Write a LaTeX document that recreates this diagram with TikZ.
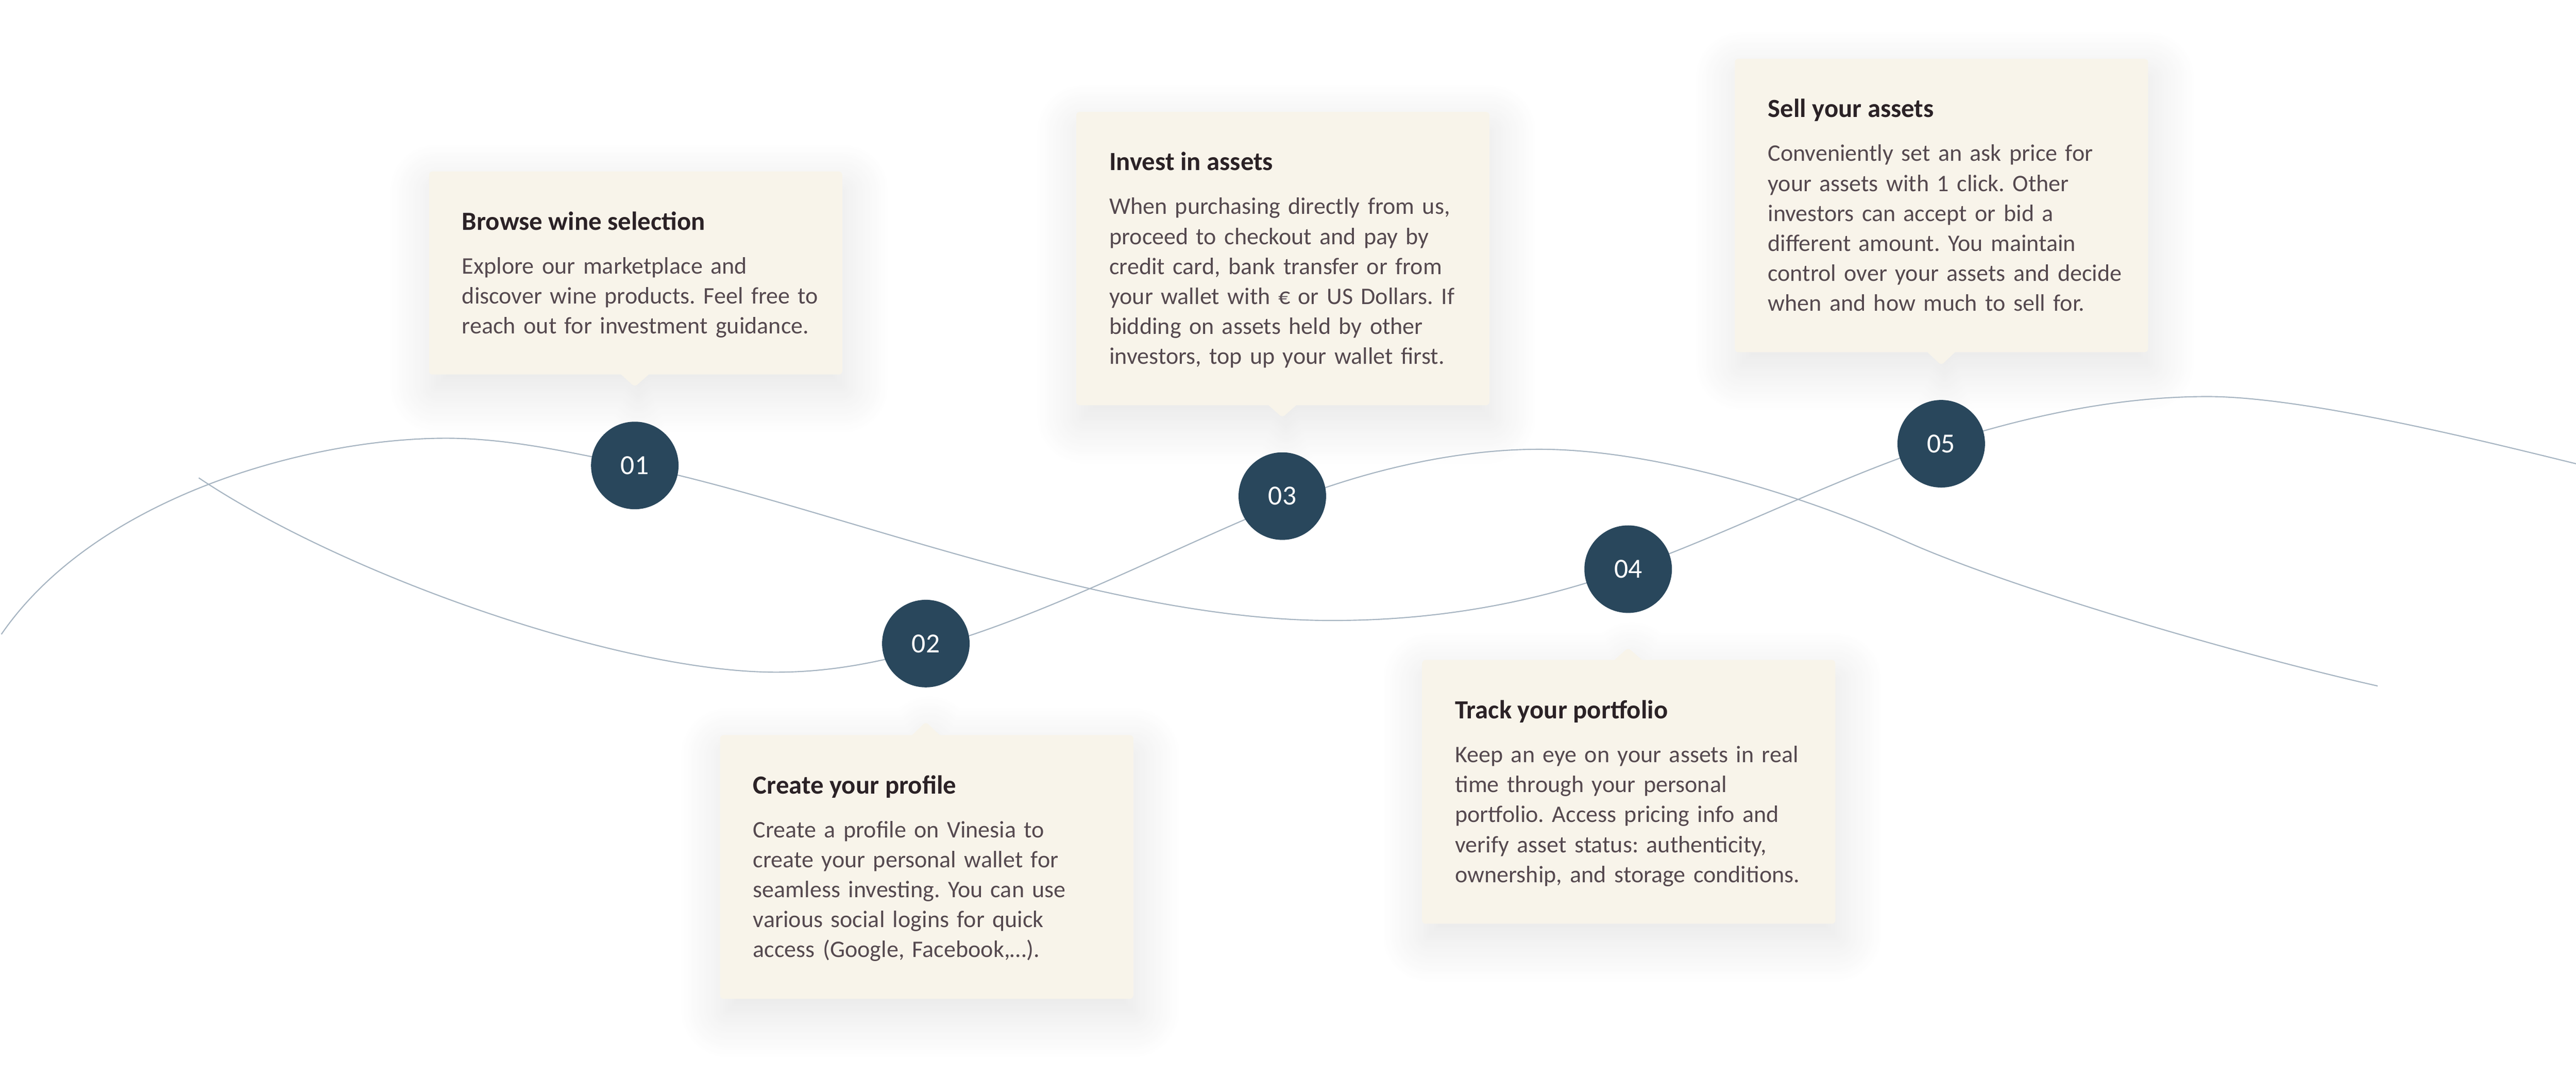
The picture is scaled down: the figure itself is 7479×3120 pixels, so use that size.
\documentclass[tikz,border=0pt]{standalone}
\usepackage{fontspec}
\setmainfont{Carlito}
\frenchspacing
\usetikzlibrary{calc}
\usetikzlibrary{shapes.callouts}
\usetikzlibrary{shadows.blur}

\definecolor{cardFill}{HTML}{F8F4EA}
\definecolor{stepFill}{HTML}{29475C}
\definecolor{waveLine}{HTML}{A6B4C1}
\definecolor{titleInk}{HTML}{2B2226}
\definecolor{bodyInk}{HTML}{55494F}

\begin{document}
\begin{tikzpicture}[x = 0.01cm, y = -0.01cm]
\tikzstyle{cardStyle} = [rectangle callout, fill = cardFill, rounded corners = 0.1cm, minimum width = 11.99cm, inner sep = 0pt, anchor = north west, callout pointer width = 0.8cm, blur shadow = {shadow xshift = 0.1cm, shadow yshift = -0.45cm, shadow blur radius = 1.3cm, shadow blur steps = 20, shadow opacity = 11}]
\tikzstyle{titleStyle} = [anchor = base west, inner sep = 0pt, text = titleInk, font = \fontsize{21.6}{26}\selectfont\bfseries]
\tikzstyle{bodyStyle} = [anchor = base west, inner sep = 0pt, text = bodyInk, align = left, text width = 11cm, font = \fontsize{19.6}{24.75}\selectfont]
\tikzstyle{stepStyle} = [circle, fill = stepFill, minimum size = 2.54cm, inner sep = 0pt, text = white, font = \fontsize{22.8}{26}\selectfont]
\tikzstyle{waveStyle} = [draw = waveLine, line width = 0.032cm]
\useasboundingbox (0,0) rectangle (7479,3120);
% cards
\node[cardStyle, minimum height = 5.89cm, callout absolute pointer = {(1843,1123)}] (b1) at (1245,497) {};
\node[cardStyle, minimum height = 7.65cm, callout absolute pointer = {(2688,2095)}] (b2) at (2090,2133) {};
\node[cardStyle, minimum height = 8.51cm, callout absolute pointer = {(3723,1212)}] (b3) at (3124,324) {};
\node[cardStyle, minimum height = 7.65cm, callout absolute pointer = {(4727,1880)}] (b4) at (4128,1915) {};
\node[cardStyle, minimum height = 8.51cm, callout absolute pointer = {(5636,1060)}] (b5) at (5036,170) {};
\node[titleStyle] (t1) at ($(b1.north west) + (96,171)$) {Browse wine selection};
\node[bodyStyle] (d1) at ($(b1.north west) + (96,298)$) {Explore our marketplace and\\ discover wine products. Feel free to\\ reach out for investment guidance.};
\node[titleStyle] (t2) at ($(b2.north west) + (96,171)$) {Create your profile};
\node[bodyStyle] (d2) at ($(b2.north west) + (96,298)$) {Create a profile on Vinesia to\\ create your personal wallet for\\ seamless investing. You can use\\ various social logins for quick\\ access (Google, Facebook,…).};
\node[titleStyle] (t3) at ($(b3.north west) + (96,171)$) {Invest in assets};
\node[bodyStyle] (d3) at ($(b3.north west) + (96,298)$) {When purchasing directly from us,\\ proceed to checkout and pay by\\ credit card, bank transfer or from\\ your wallet with € or US Dollars. If\\ bidding on assets held by other\\ investors, top up your wallet first.};
\node[titleStyle] (t4) at ($(b4.north west) + (96,171)$) {Track your portfolio};
\node[bodyStyle] (d4) at ($(b4.north west) + (96,298)$) {Keep an eye on your assets in real\\ time through your personal\\ portfolio. Access pricing info and\\ verify asset status: authenticity,\\ ownership, and storage conditions.};
\node[titleStyle] (t5) at ($(b5.north west) + (96,171)$) {Sell your assets};
\node[bodyStyle] (d5) at ($(b5.north west) + (96,298)$) {Conveniently set an ask price for\\ your assets with 1 click. Other\\ investors can accept or bid a\\ different amount. You maintain\\ control over your assets and decide\\ when and how much to sell for.};
% waves
\coordinate (p01) at (1843,1351);
\coordinate (p02) at (2688,1868);
\coordinate (p03) at (3723,1440);
\coordinate (p04) at (4727,1652);
\coordinate (p05) at (5636,1288);
\coordinate (wA0) at (4,1841);
\coordinate (wA1) at (1295,1272);
\coordinate (wA2) at (3866,1801);
\coordinate (wA3) at (6409,1151);
\coordinate (wA4) at (7479,1346);
\coordinate (wB0) at (577,1387);
\coordinate (wB1) at (2253,1951);
\coordinate (wB2) at (2688,1884);
\coordinate (wB3) at (3723,1462);
\coordinate (wB4) at (4469,1304);
\coordinate (wB5) at (5530,1570);
\coordinate (wB6) at (6903,1991);
\draw[waveStyle] (wA0) .. controls (280,1440) and (900,1272) .. (wA1) .. controls (1480,1272) and (1663,1315) .. (p01) .. controls (2400,1465) and (3200,1801) .. (wA2) .. controls (4200,1801) and (4477,1741) .. (p04) .. controls (5027,1545) and (5336,1385) .. (p05) .. controls (5886,1207) and (6150,1151) .. (wA3) .. controls (6700,1151) and (7250,1290) .. (wA4);
\draw[waveStyle] (wB0) .. controls (1000,1670) and (1800,1951) .. (wB1) .. controls (2400,1951) and (2538,1926) .. (wB2) .. controls (3038,1786) and (3373,1606) .. (wB3) .. controls (3923,1380) and (4200,1304) .. (wB4) .. controls (4800,1304) and (5230,1435) .. (wB5) .. controls (5830,1705) and (6503,1901) .. (wB6);
% steps
\node[stepStyle] (s1) at (p01) {01};
\node[stepStyle] (s2) at (p02) {02};
\node[stepStyle] (s3) at (p03) {03};
\node[stepStyle] (s4) at (p04) {04};
\node[stepStyle] (s5) at (p05) {05};
\end{tikzpicture}
\end{document}
